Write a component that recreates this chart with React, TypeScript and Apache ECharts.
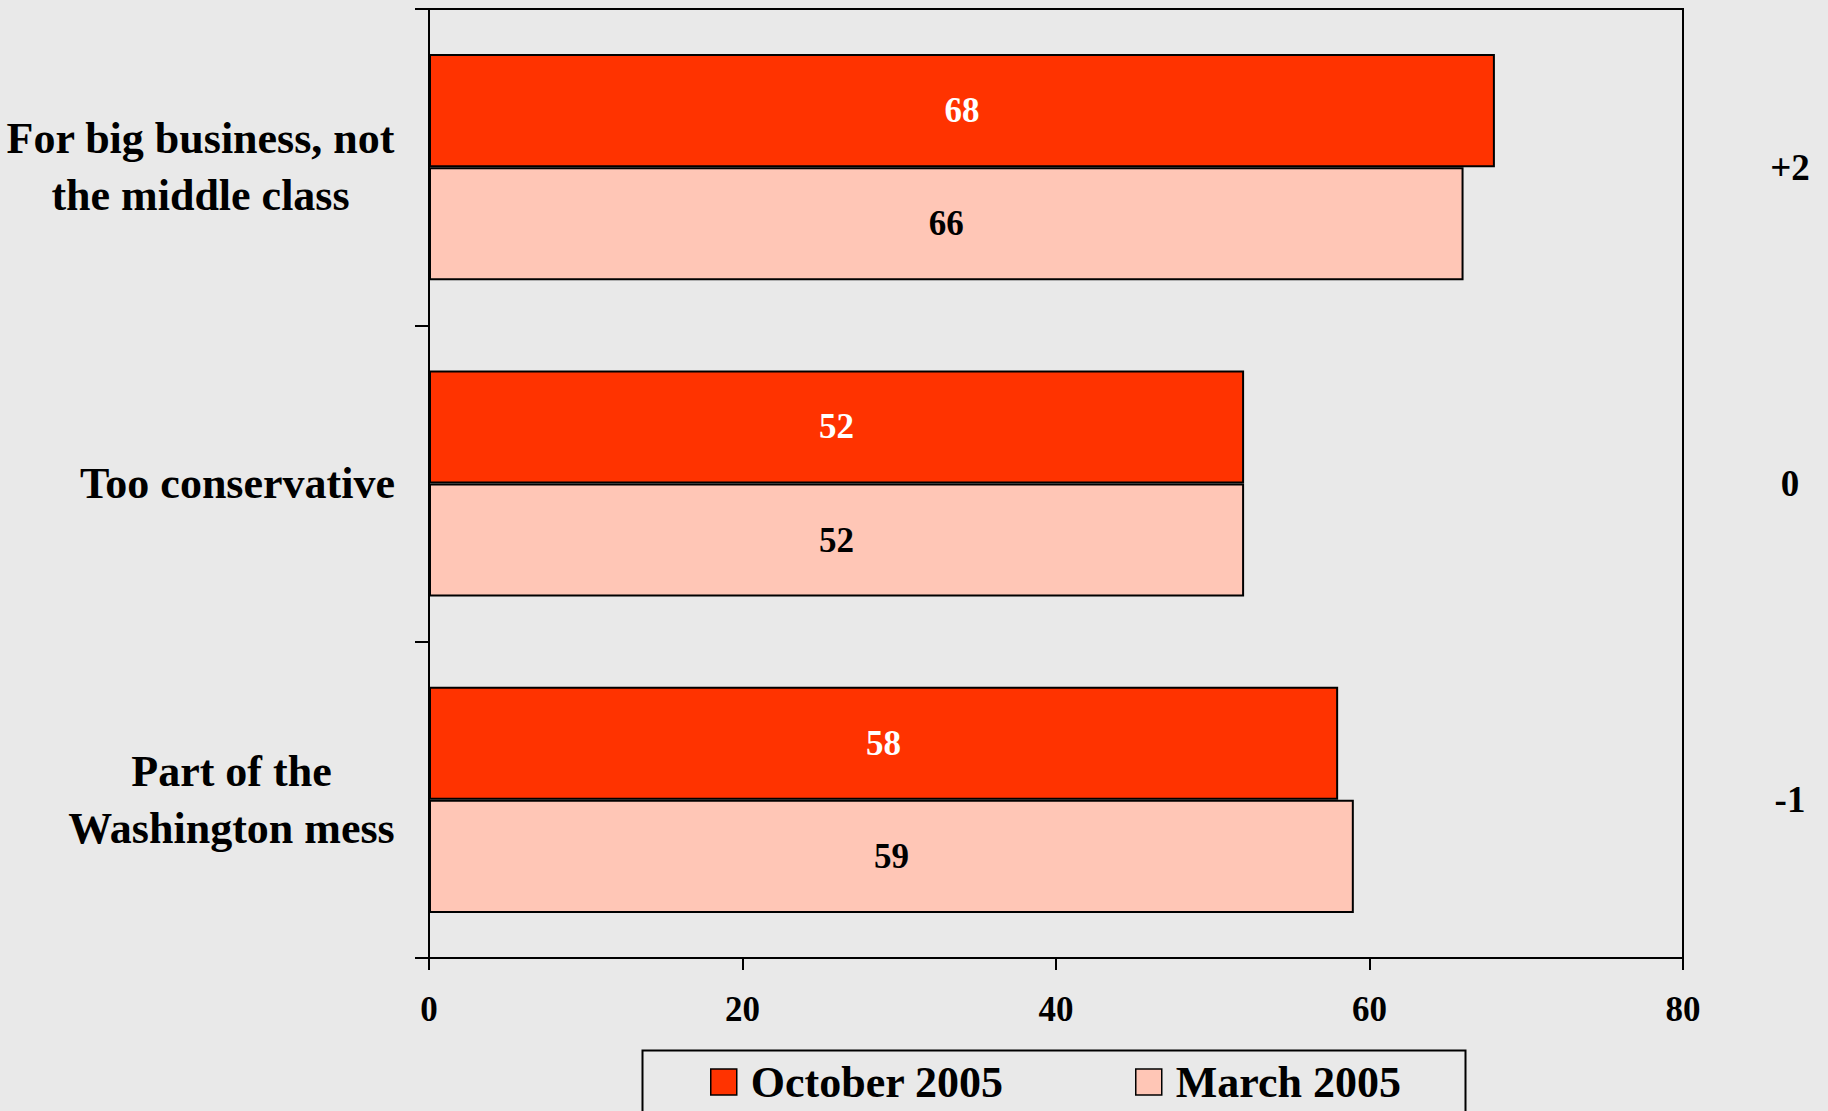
import React, { useEffect, useRef } from "react";
import * as echarts from "echarts";

const categories = [
  "For big business, not\nthe middle class",
  "Too conservative",
  "Part of the\nWashington mess",
];
const october2005 = [68, 52, 58];
const march2005 = [66, 52, 59];
const changeLabels = ["+2", "0", "-1"];
const seriesNames = ["October 2005", "March 2005"];
const xMin = 0;
const xMax = 80;
const xInterval = 20;

const FONT = "'Liberation Serif', 'Times New Roman', serif";
const BG = "#E9E9E9";

export default function App() {
  const ref = useRef<HTMLDivElement | null>(null);

  useEffect(() => {
    document.body.style.margin = "0";
    document.body.style.background = BG;
    if (!ref.current) return;
    const chart = echarts.init(ref.current, null, { renderer: "svg" });

    const catFontSize = 44;
    const canvas = document.createElement("canvas");
    const ctx = canvas.getContext("2d");
    const widths = categories.map((c) => {
      if (!ctx) return 380;
      ctx.font = `bold ${catFontSize}px 'Liberation Serif'`;
      return Math.ceil(Math.max(...c.split("\n").map((l) => ctx.measureText(l).width)));
    });
    const rich: Record<string, any> = {};
    widths.forEach((w, i) => {
      rich["c" + i] = {
        width: w,
        align: "center",
        fontSize: catFontSize,
        fontWeight: "bold",
        fontFamily: FONT,
        color: "#000",
        lineHeight: 57,
      };
    });

    const legendCommon = {
      itemWidth: 26,
      itemHeight: 26,
      padding: 0,
      icon: "rect",
      top: 1060,
      itemStyle: { borderColor: "#000", borderWidth: 1.5 },
      textStyle: {
        fontSize: 44,
        lineHeight: 44,
        fontWeight: "bold",
        fontFamily: FONT,
        color: "#000",
        padding: [0, 0, 0, 9],
      },
    };

    chart.setOption({
      animation: false,
      backgroundColor: BG,
      textStyle: { fontFamily: FONT },
      grid: {
        left: 429,
        right: 145,
        top: 9,
        bottom: 153,
        show: true,
        borderColor: "#000",
        borderWidth: 2,
        backgroundColor: "transparent",
      },
      legend: [
        { ...legendCommon, data: [seriesNames[0]], left: 710 },
        { ...legendCommon, data: [seriesNames[1]], left: 1135 },
      ],
      graphic: [
        {
          type: "rect",
          left: 640,
          top: 1048,
          shape: { width: 823, height: 100 },
          style: { fill: "none", stroke: "#000", lineWidth: 2 },
          silent: true,
        },
      ],
      xAxis: {
        type: "value",
        min: xMin,
        max: xMax,
        interval: xInterval,
        axisLine: { show: true, lineStyle: { color: "#000", width: 2 } },
        axisTick: { show: true, length: 12, lineStyle: { color: "#000", width: 2 } },
        splitLine: { show: false },
        axisLabel: {
          margin: 34,
          fontSize: 35,
          fontWeight: "bold",
          fontFamily: FONT,
          color: "#000",
        },
      },
      yAxis: [
        {
          type: "category",
          data: categories,
          inverse: true,
          axisLine: { show: true, lineStyle: { color: "#000", width: 2 } },
          axisTick: { show: true, length: 14, lineStyle: { color: "#000", width: 2 } },
          axisLabel: {
            margin: 34,
            align: "right",
            formatter: (v: string, idx: number) =>
              v
                .split("\n")
                .map((l) => `{c${idx}|${l}}`)
                .join("\n"),
            rich,
          },
        },
        {
          type: "category",
          data: changeLabels,
          inverse: true,
          position: "right",
          axisLine: { show: false },
          axisTick: { show: false },
          axisLabel: {
            margin: 107,
            align: "center",
            fontSize: 37,
            fontWeight: "bold",
            fontFamily: FONT,
            color: "#000",
            padding: [6, 0, 0, 0],
          },
        },
      ],
      series: [
        {
          name: seriesNames[0],
          type: "bar",
          data: october2005,
          barGap: "0%",
          barCategoryGap: "28.5%",
          itemStyle: { color: "#FF3300", borderColor: "#000", borderWidth: 2 },
          label: {
            show: true,
            position: "inside",
            fontSize: 35,
            fontWeight: "bold",
            fontFamily: FONT,
            color: "#FFFFFF",
          },
        },
        {
          name: seriesNames[1],
          type: "bar",
          data: march2005,
          barGap: "0%",
          barCategoryGap: "28.5%",
          itemStyle: { color: "#FFC6B6", borderColor: "#000", borderWidth: 2 },
          label: {
            show: true,
            position: "inside",
            fontSize: 35,
            fontWeight: "bold",
            fontFamily: FONT,
            color: "#000",
          },
        },
      ],
    });

    return () => chart.dispose();
  }, []);

  return <div ref={ref} style={{ width: 1828, height: 1111, background: BG }} />;
}
